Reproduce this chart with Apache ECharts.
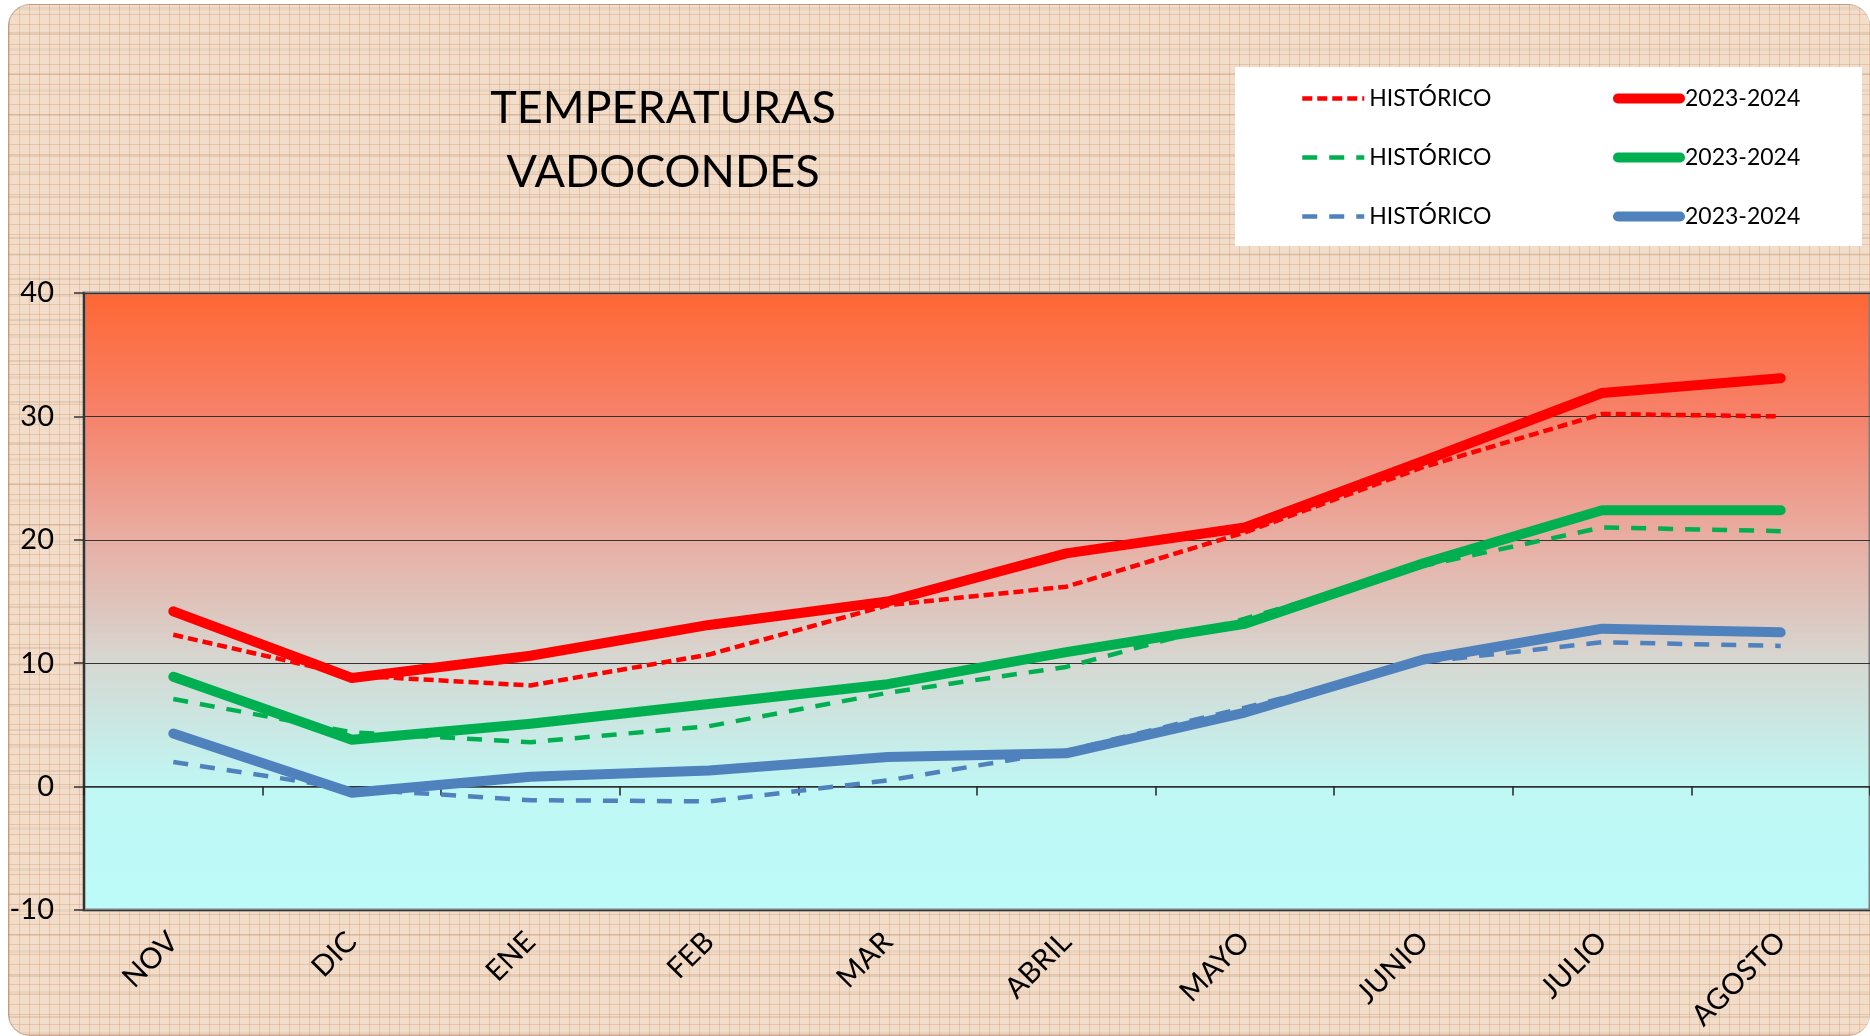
<!DOCTYPE html>
<html>
<head>
<meta charset="utf-8">
<script src="https://cdn.jsdelivr.net/npm/echarts@6/dist/echarts.min.js"></script>
<style>
  html, body { margin: 0; padding: 0; background: #fff; }
  #fondo {
    position: absolute; left: 8px; top: 4px; right: 0; bottom: 0;
    border-radius: 22px;
    border: 1px solid rgba(170, 120, 90, 0.5);
    border-right: none;
    background:
      repeating-linear-gradient(90deg, rgba(205, 130, 75, 0.28) 0 1px, transparent 1px 10px),
      repeating-linear-gradient(0deg, rgba(205, 130, 75, 0.28) 0 1px, transparent 1px 10px),
      repeating-linear-gradient(0deg, rgba(130, 95, 70, 0.08) 0 3px, transparent 3px 17px, rgba(130, 95, 70, 0.14) 17px 19px, transparent 19px 41px),
      #f1ddca;
  }
  #chart { position: absolute; left: 0; top: 0; width: 1870px; height: 1036px; }
</style>
</head>
<body>
<div id="fondo"></div>
<div id="chart"></div>
<script>
const meses = ['NOV', 'DIC', 'ENE', 'FEB', 'MAR', 'ABRIL', 'MAYO', 'JUNIO', 'JULIO', 'AGOSTO']

// máximas
const maxHistorico = [12.3, 9.0, 8.2, 10.7, 14.7, 16.2, 20.6, 25.9, 30.2, 30.0]
const max2324 = [14.2, 8.8, 10.6, 13.1, 15.0, 18.9, 21.0, 26.4, 31.9, 33.1]
// medias
const medHistorico = [7.1, 4.4, 3.6, 4.9, 7.6, 9.7, 13.6, 17.9, 21.0, 20.7]
const med2324 = [8.9, 3.8, 5.1, 6.7, 8.3, 10.9, 13.2, 18.1, 22.4, 22.4]
// mínimas
const minHistorico = [2.0, -0.2, -1.1, -1.2, 0.5, 2.9, 6.4, 10.1, 11.7, 11.4]
const min2324 = [4.3, -0.5, 0.8, 1.3, 2.4, 2.7, 6.0, 10.3, 12.8, 12.5]

const yTicks = [-10, 0, 10, 20, 30, 40]

const ROJO = '#ff0000'
const VERDE = '#00b050'
const AZUL = '#4f81bd'
const FONT = 'Lato'

const DASH_ROJO = [10, 5]
const DASH_OTROS = [15, 12]

// nombres internos -> texto de leyenda
const etiquetas = {
  histRojo: 'HISTÓRICO', actRojo: '2023-2024',
  histVerde: 'HISTÓRICO', actVerde: '2023-2024',
  histAzul: 'HISTÓRICO', actAzul: '2023-2024',
}

function hist(name, data, color, dash) {
  return {
    name, type: 'line', data, symbol: 'none', xAxisIndex: 0,
    lineStyle: { color, width: 4.5, type: dash, cap: 'butt' },
    itemStyle: { color },
    z: 3,
  }
}
function actual(name, data, color) {
  return {
    name, type: 'line', data, symbol: 'none', xAxisIndex: 0,
    lineStyle: { color, width: 10, cap: 'round', join: 'round' },
    itemStyle: { color },
    z: 4,
  }
}

// icono de leyenda: solo la línea, sin símbolo
function itemHist(name, color, dash) {
  return { name, itemStyle: { opacity: 0 }, lineStyle: { color, width: 4.5, type: dash } }
}
function itemActual(name, color) {
  return { name, itemStyle: { opacity: 0 }, lineStyle: { color, width: 10, cap: 'round' } }
}

const legendBase = {
  orient: 'vertical',
  itemWidth: 62,
  itemHeight: 12,
  itemGap: 36,
  textStyle: { color: '#000', fontSize: 23, fontFamily: FONT },
  formatter: name => etiquetas[name],
  selectedMode: false,
  z: 10,
}

const chart = echarts.init(document.getElementById('chart'))
chart.setOption({
  animation: false,
  backgroundColor: 'transparent',
  title: {
    text: 'TEMPERATURAS\nVADOCONDES',
    left: 658,
    top: 71,
    textAlign: 'center',
    textStyle: { color: '#000', fontSize: 45, fontWeight: 'normal', fontFamily: FONT, lineHeight: 64 },
  },
  graphic: [{
    type: 'rect',
    shape: { x: 1235, y: 67, width: 627, height: 179 },
    style: { fill: '#fff' },
    z: 1,
  }],
  legend: [
    Object.assign({
      left: 1295, top: 82,
      data: [itemHist('histRojo', ROJO, DASH_ROJO), itemHist('histVerde', VERDE, DASH_OTROS), itemHist('histAzul', AZUL, DASH_OTROS)],
    }, legendBase),
    Object.assign({
      left: 1608, top: 82,
      data: [itemActual('actRojo', ROJO), itemActual('actVerde', VERDE), itemActual('actAzul', AZUL)],
    }, legendBase),
  ],
  grid: {
    left: 84, top: 293, right: -6, bottom: 126,
    show: true,
    borderColor: '#7f7f7f',
    borderWidth: 3,
    backgroundColor: new echarts.graphic.LinearGradient(0, 0, 0, 1, [
      { offset: 0, color: '#ff6633' },
      { offset: 0.2, color: '#f6826a' },
      { offset: 0.4, color: '#e8aea3' },
      { offset: 0.6, color: '#d6d8d2' },
      { offset: 0.8, color: '#bff7f4' },
      { offset: 1, color: '#bcfbf9' },
    ]),
  },
  xAxis: [
    {
      type: 'category',
      data: meses,
      position: 'bottom',
      axisLine: { onZero: true, lineStyle: { color: '#333', width: 1.5 } },
      axisTick: { show: true, length: 9, inside: false, lineStyle: { color: '#222', width: 1.5 } },
      axisLabel: { show: false },
      splitLine: { show: false },
    },
    {
      type: 'category',
      data: meses,
      position: 'bottom',
      axisLine: { show: false, onZero: false },
      axisTick: { show: false },
      axisLabel: {
        rotate: 45,
        margin: 27,
        color: '#000',
        fontSize: 29,
        fontFamily: FONT,
      },
    },
  ],
  yAxis: {
    type: 'value',
    min: yTicks[0],
    max: yTicks[yTicks.length - 1],
    interval: 10,
    axisLine: { show: true, lineStyle: { color: '#333', width: 2 } },
    axisTick: { show: true, length: 10, lineStyle: { color: '#333', width: 1.5 } },
    axisLabel: { color: '#000', fontSize: 29, fontFamily: FONT, margin: 30 },
    splitLine: { show: true, lineStyle: { color: '#333', width: 1.2 } },
  },
  series: [
    hist('histRojo', maxHistorico, ROJO, DASH_ROJO),
    actual('actRojo', max2324, ROJO),
    hist('histVerde', medHistorico, VERDE, DASH_OTROS),
    actual('actVerde', med2324, VERDE),
    hist('histAzul', minHistorico, AZUL, DASH_OTROS),
    actual('actAzul', min2324, AZUL),
  ],
})
</script>
</body>
</html>
